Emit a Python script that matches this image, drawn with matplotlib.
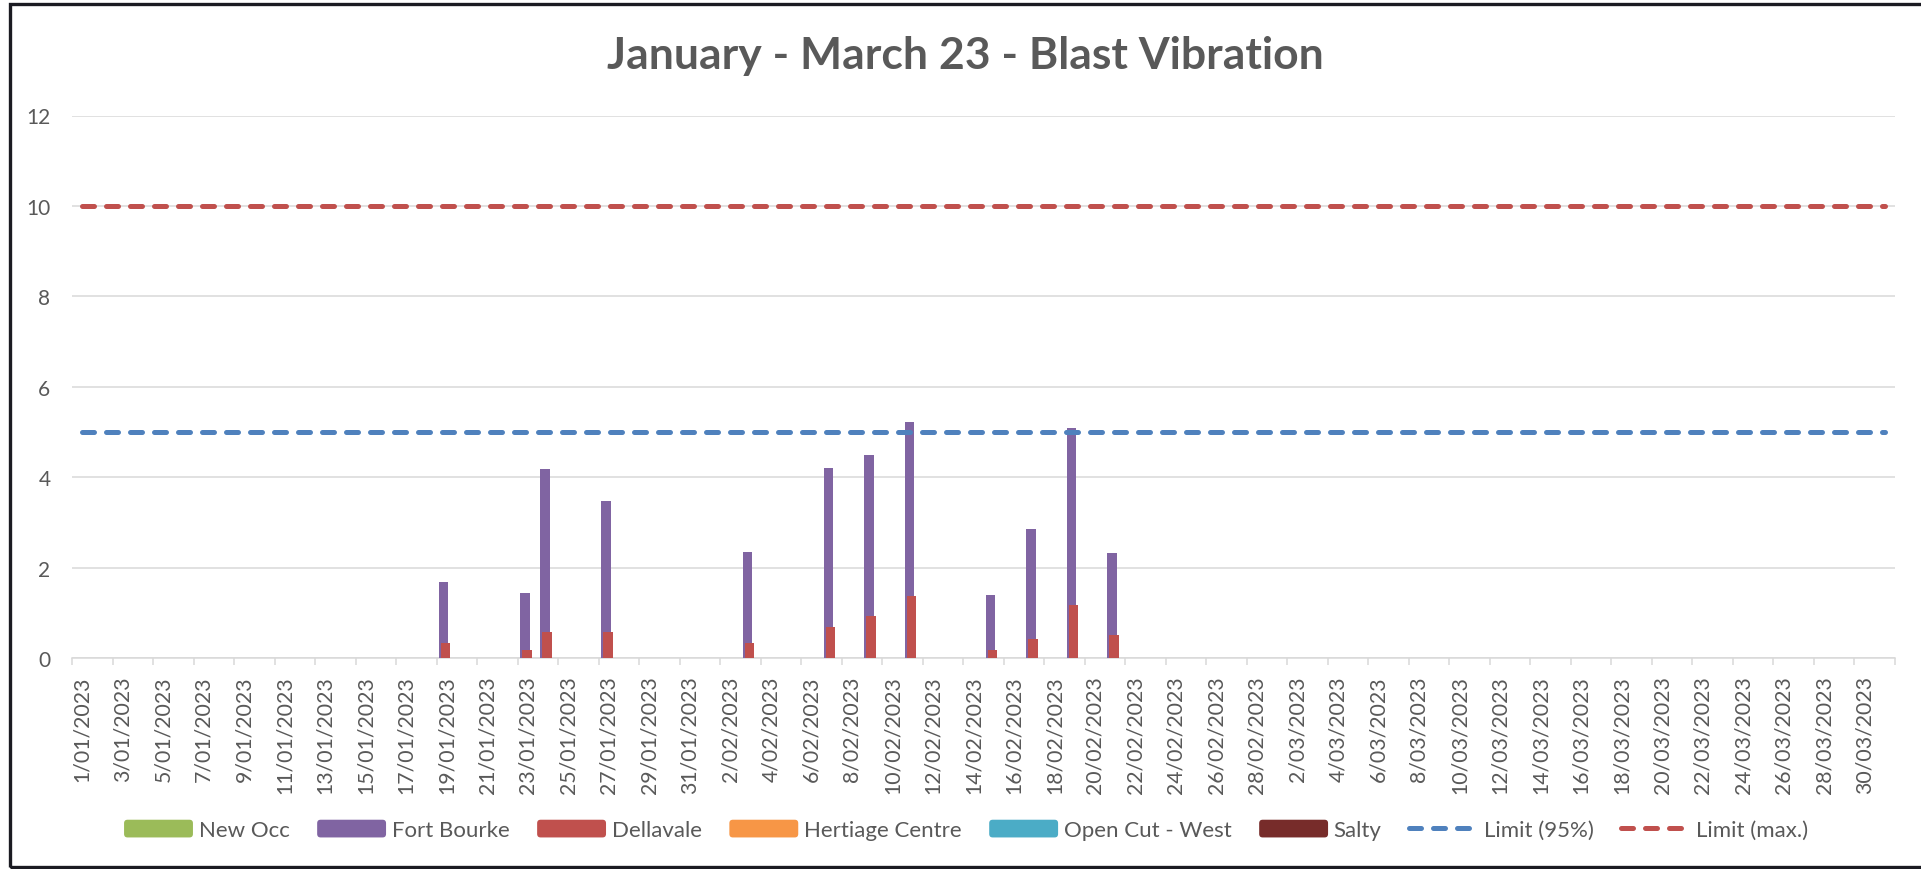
import matplotlib
matplotlib.use("Agg")
import matplotlib.pyplot as plt
import numpy as np
import pandas as pd
from matplotlib.patches import Patch, FancyBboxPatch, Rectangle
from matplotlib.lines import Line2D
from matplotlib.legend_handler import HandlerPatch

# ---------------- data ----------------
TITLE = "January - March 23 - Blast Vibration"
AXIS_START = "2023-01-01"
AXIS_END = "2023-03-31"

SERIES_NAMES = ["New Occ", "Fort Bourke", "Dellavale", "Hertiage Centre",
                "Open Cut - West", "Salty"]

blast_dates = ["2023-01-19", "2023-01-23", "2023-01-24", "2023-01-27",
               "2023-02-03", "2023-02-07", "2023-02-09", "2023-02-11",
               "2023-02-15", "2023-02-17", "2023-02-19", "2023-02-21"]

new_occ = [np.nan] * 12
fort_bourke = [1.68, 1.44, 4.19, 3.48, 2.35, 4.21, 4.50, 5.22, 1.40, 2.85, 5.08, 2.33]
dellavale = [0.33, 0.17, 0.57, 0.57, 0.33, 0.69, 0.94, 1.38, 0.17, 0.42, 1.17, 0.51]
hertiage_centre = [np.nan] * 12
open_cut_west = [np.nan] * 12
salty = [np.nan] * 12

LIMIT_95 = 5.0
LIMIT_MAX = 10.0

y_ticks = [0, 2, 4, 6, 8, 10, 12]

# ---------------- style ----------------
COLORS = ["#9BBB59", "#8064A2", "#C0504D", "#F79646", "#4BACC6", "#772C2A"]
BLUE = "#4F81BD"
RED = "#C0504D"
TEXT = "#595959"
GRID = "#D9D9D9"
FONT = "Lato"

plt.rcParams["font.family"] = [FONT, "DejaVu Sans"]

W, H = 1921, 870
fig = plt.figure(figsize=(W / 100, H / 100), dpi=100)
ax = fig.add_axes([72 / W, 1 - 659 / H, (1895 - 72) / W, (659 - 116.5) / H])

all_days = pd.date_range(AXIS_START, AXIS_END, freq="D")
n_days = len(all_days)
day_idx = np.arange(n_days)
start = pd.Timestamp(AXIS_START)
bx = np.array([(pd.Timestamp(d) - start).days for d in blast_dates], dtype=float)

series = [new_occ, fort_bourke, dellavale, hertiage_centre, open_cut_west, salty]
n_series = len(series)
bar_w = 0.47
step = 0.099
for i, (vals, col) in enumerate(zip(series, COLORS)):
    v = np.array(vals, dtype=float)
    if np.all(np.isnan(v)):
        continue
    off = (i - (n_series - 1) / 2) * step
    ax.bar(bx + off, v, width=bar_w, color=col, zorder=3 + i * 0.1, linewidth=0)

# limit lines
lw = 3.6
l95, = ax.plot(day_idx, np.full(n_days, LIMIT_95), color=BLUE, lw=lw, zorder=5,
               dash_capstyle="round", dashes=(2.4, 2.4))
lmax, = ax.plot(day_idx, np.full(n_days, LIMIT_MAX), color=RED, lw=lw, zorder=5,
                dash_capstyle="round", dashes=(2.4, 2.4))

ax.set_xlim(-0.5, n_days - 0.5)
ax.set_ylim(0, 12)
ax.set_yticks(y_ticks)
ax.set_yticklabels([str(t) for t in y_ticks])
ax.yaxis.grid(True, color=GRID, lw=1.1, zorder=0)
ax.set_axisbelow(True)

# x labels (every 2 days, centered on day slot) and tick marks at slot boundaries
lab_pos = day_idx[::2]
ax.set_xticks(lab_pos)
ax.set_xticklabels([f"{d.day}/{d.month:02d}/{d.year}" for d in all_days[::2]],
                   rotation=90, va="top", ha="center")
ax.set_xticks(np.arange(-0.5, n_days, 2), minor=True)
ax.tick_params(axis="x", which="major", length=0, pad=12.5, labelsize=15.3, labelcolor=TEXT)
ax.tick_params(axis="x", which="minor", length=5.2, width=1.1, color=GRID, direction="out")
ax.tick_params(axis="y", length=0, pad=15.5, labelsize=15, labelcolor=TEXT)

for s in ["top", "right", "left"]:
    ax.spines[s].set_visible(False)
ax.spines["bottom"].set_color(GRID)
ax.spines["bottom"].set_linewidth(1.1)
ax.spines["bottom"].set_zorder(2)

fig.text(965 / W, 1 - 56 / H, TITLE, ha="center", va="center", fontsize=32,
         fontweight="bold", color=TEXT)


class RoundHandler(HandlerPatch):
    def create_artists(self, legend, orig_handle, xdescent, ydescent, width, height,
                       fontsize, trans):
        p = FancyBboxPatch((-xdescent, -ydescent), width, height,
                           boxstyle="round,pad=0,rounding_size=2.5",
                           facecolor=orig_handle.get_facecolor(), edgecolor="none",
                           transform=trans)
        return [p]


handles = [Patch(facecolor=c, edgecolor="none", label=nm) for c, nm in zip(COLORS, SERIES_NAMES)]
handles += [Line2D([], [], color=BLUE, lw=lw, dash_capstyle="round", dashes=(2.4, 2.4), label="Limit (95%)"),
            Line2D([], [], color=RED, lw=lw, dash_capstyle="round", dashes=(2.4, 2.4), label="Limit (max.)")]
hmap = {h: RoundHandler() for h in handles[:6]}
leg = fig.legend(handles=handles, loc="center", bbox_to_anchor=(966 / W, 1 - 831 / H),
                 ncol=8, frameon=False, fontsize=16, handlelength=3.1, handleheight=0.85,
                 handletextpad=0.25, columnspacing=1.25, handler_map=hmap)
for t in leg.get_texts():
    t.set_color(TEXT)

# outer chart border
fig.patches.append(Rectangle((9.5 / W, 2.5 / H), (1940 - 9.5) / W, (865.5 - 2.5) / H,
                             transform=fig.transFigure, fill=False, edgecolor="#1b1b22",
                             lw=2.4, zorder=10))

fig.savefig("out.png", dpi=100)
